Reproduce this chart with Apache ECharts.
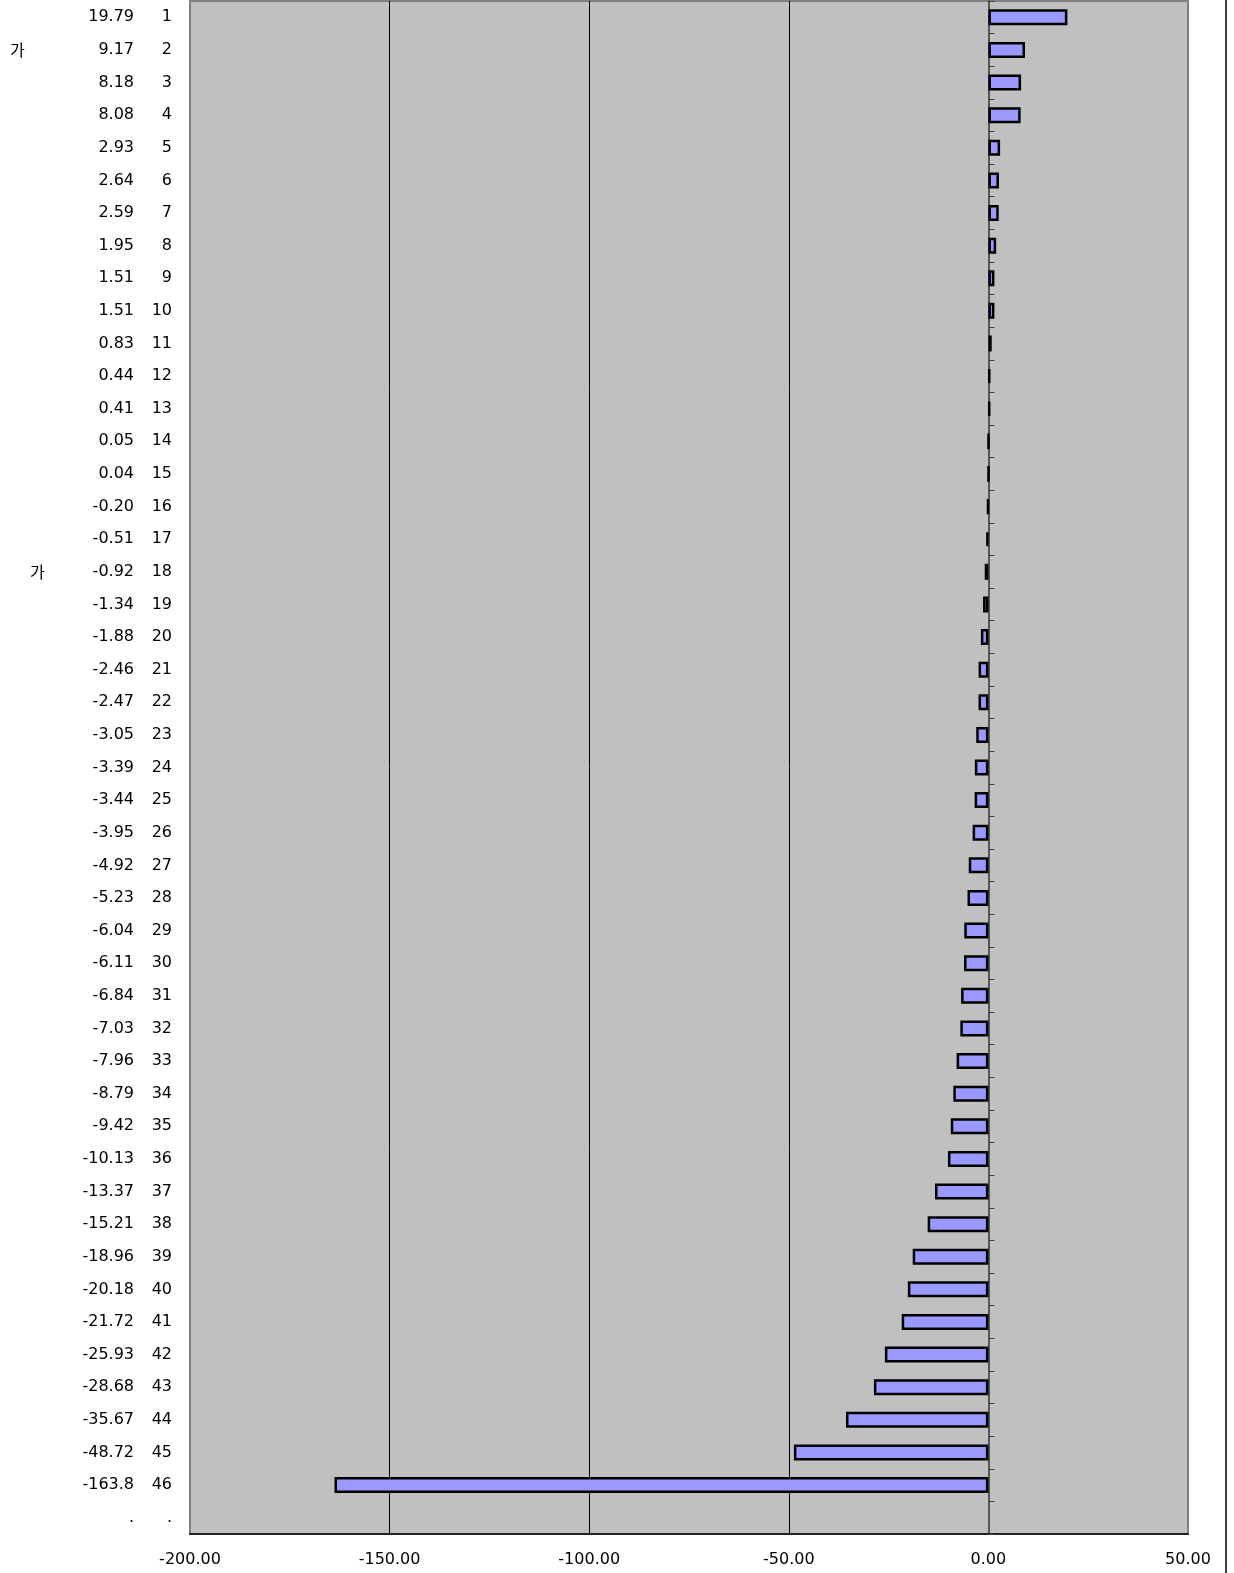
<!DOCTYPE html>
<html>
<head>
<meta charset="utf-8">
<script src="https://cdn.jsdelivr.net/npm/echarts@6/dist/echarts.min.js"></script>
<style>
html,body{margin:0;padding:0;background:#fff;}
#c{width:1234px;height:1573px;}
</style>
</head>
<body>
<div id="c"></div>
<script>
const categories = ['1','2','3','4','5','6','7','8','9','10','11','12','13','14','15','16','17','18','19','20','21','22','23','24','25','26','27','28','29','30','31','32','33','34','35','36','37','38','39','40','41','42','43','44','45','46','.'];
const values = [19.79, 9.17, 8.18, 8.08, 2.93, 2.64, 2.59, 1.95, 1.51, 1.51, 0.83, 0.44, 0.41, 0.05, 0.04, -0.20, -0.51, -0.92, -1.34, -1.88, -2.46, -2.47, -3.05, -3.39, -3.44, -3.95, -4.92, -5.23, -6.04, -6.11, -6.84, -7.03, -7.96, -8.79, -9.42, -10.13, -13.37, -15.21, -18.96, -20.18, -21.72, -25.93, -28.68, -35.67, -48.72, -163.8, null];
const valueLabels = ['19.79','9.17','8.18','8.08','2.93','2.64','2.59','1.95','1.51','1.51','0.83','0.44','0.41','0.05','0.04','-0.20','-0.51','-0.92','-1.34','-1.88','-2.46','-2.47','-3.05','-3.39','-3.44','-3.95','-4.92','-5.23','-6.04','-6.11','-6.84','-7.03','-7.96','-8.79','-9.42','-10.13','-13.37','-15.21','-18.96','-20.18','-21.72','-25.93','-28.68','-35.67','-48.72','-163.8','.'];
const sideMarks = {1:'a', 17:'b'}; // rows 2 and 18 carry the "가" mark
const sideText = '가';
const xTicks = [-200, -150, -100, -50, 0, 50];

const FONT = 'DejaVu Sans';
const chart = echarts.init(document.getElementById('c'), null, {renderer:'canvas'});
const option = {
  animation: false,
  backgroundColor: '#ffffff',
  grid: {
    left: 190, right: 46, top: 1, bottom: 39,
    show: true, backgroundColor: '#c0c0c0', borderColor: '#808080', borderWidth: 2
  },
  xAxis: {
    type: 'value', min: xTicks[0], max: xTicks[xTicks.length-1], interval: 50,
    axisLine: {show: true, onZero: false, lineStyle: {color: '#222', width: 2}},
    axisTick: {show: false},
    splitLine: {show: true, lineStyle: {color: ['rgba(0,0,0,0)','#000','#000','#000','rgba(0,0,0,0)','rgba(0,0,0,0)'], width: 1}},
    axisLabel: {
      margin: 18, color: '#000', fontFamily: FONT, fontSize: 16,
      formatter: v => v.toFixed(2)
    }
  },
  yAxis: [{
    type: 'category', data: categories, inverse: true,
    axisLine: {show: true, onZero: false, lineStyle: {color: '#808080', width: 2}},
    axisTick: {show: false},
    splitLine: {show: false},
    axisLabel: {
      margin: 18, color: '#000', fontFamily: FONT, fontSize: 16, interval: 0,
      formatter: (val, idx) => {
        const k = sideMarks[idx];
        const pre = k ? '{' + k + '|' + sideText + '}' : '';
        return pre + '{v|' + valueLabels[idx] + '}{i|' + val + '}';
      },
      rich: {
        a: {width: 64, align: 'left', fontFamily: 'Noto Sans CJK KR', fontSize: 16, color: '#000'},
        b: {width: 44, align: 'left', fontFamily: 'Noto Sans CJK KR', fontSize: 16, color: '#000'},
        v: {width: 60, align: 'right', fontFamily: FONT, fontSize: 16, color: '#000'},
        i: {width: 38, align: 'right', fontFamily: FONT, fontSize: 16, color: '#000'}
      }
    }
  }, {
    type: 'category', data: categories, inverse: true, position: 'left',
    axisLine: {show: true, onZero: true, lineStyle: {color: '#555', width: 2}},
    axisTick: {show: true, inside: true, length: 6, lineStyle: {color: '#444', width: 1}},
    axisLabel: {show: false},
    splitLine: {show: false}
  }],
  series: [{
    type: 'bar', yAxisIndex: 0, data: values, barWidth: 16,
    itemStyle: {color: '#9999ff', borderColor: '#000', borderWidth: 2.5}
  }],
  graphic: [{
    type: 'line', shape: {x1: 1226, y1: 0, x2: 1226, y2: 1573},
    style: {stroke: '#000', lineWidth: 1.5}
  }]
};
chart.setOption(option);
</script>
</body>
</html>
